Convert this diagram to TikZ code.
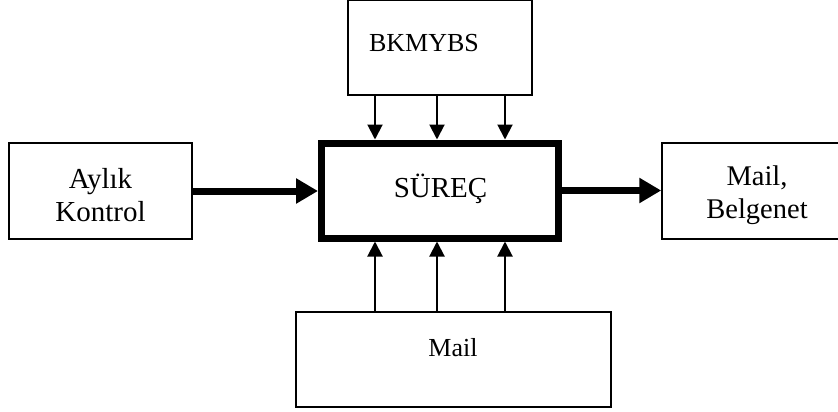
\documentclass[tikz,border=0pt]{standalone}
\usepackage{fontspec}
\setmainfont{Liberation Serif}
\usetikzlibrary{arrows.meta}
\begin{document}
\begin{tikzpicture}[x=1pt,y=-1pt,
  box/.style={draw,line width=1.5pt,rectangle,inner sep=0pt},
  bigbox/.style={box,line width=7pt},
  lbl/.style={inner sep=0pt,align=center,font=\fontsize{26}{31}\selectfont},
  biglbl/.style={inner sep=0pt,align=center,font=\fontsize{29}{33.5}\selectfont},
  thinarrow/.style={line width=2pt,-{Triangle[length=15pt,width=15pt]}},
  thickarrow/.style={line width=7pt,-{Triangle[length=22pt,width=24pt]}}]
\useasboundingbox (0,0) rectangle (838,412);
\node[box,minimum width=184pt,minimum height=95pt] (bk) at (440,47.5) {};
\node[lbl] (bkt) at (424,43) {BKMYBS};
\node[bigbox,minimum width=236.5pt,minimum height=95pt] (sur) at (439.75,190.5) {};
\node[biglbl] (surt) at (440.5,189) {SÜREÇ};
\node[box,minimum width=183pt,minimum height=96pt] (ayl) at (100.5,191) {};
\node[biglbl] (aylt) at (100.5,195) {Aylık\\Kontrol};
\node[box,minimum width=190pt,minimum height=96pt] (mb) at (757,191) {};
\node[biglbl,font=\fontsize{28.5}{33}\selectfont] (mbt) at (757,195) {Mail,\\Belgenet};
\node[box,minimum width=315pt,minimum height=95pt] (ml) at (453.5,359.5) {};
\node[lbl] (mlt) at (453,348) {Mail};
\coordinate (c1) at (375,0);
\coordinate (c2) at (437,0);
\coordinate (c3) at (505,0);
\foreach \c in {c1,c2,c3}{
  \draw[thinarrow] (bk.south -| \c) -- (sur.north -| \c);
  \draw[thinarrow] (ml.north -| \c) -- (sur.south -| \c);
}
\draw[thickarrow] (ayl.east) -- (sur.west |- ayl.east);
\draw[thickarrow] (sur.east) -- (mb.west |- sur.east);
\end{tikzpicture}
\end{document}
